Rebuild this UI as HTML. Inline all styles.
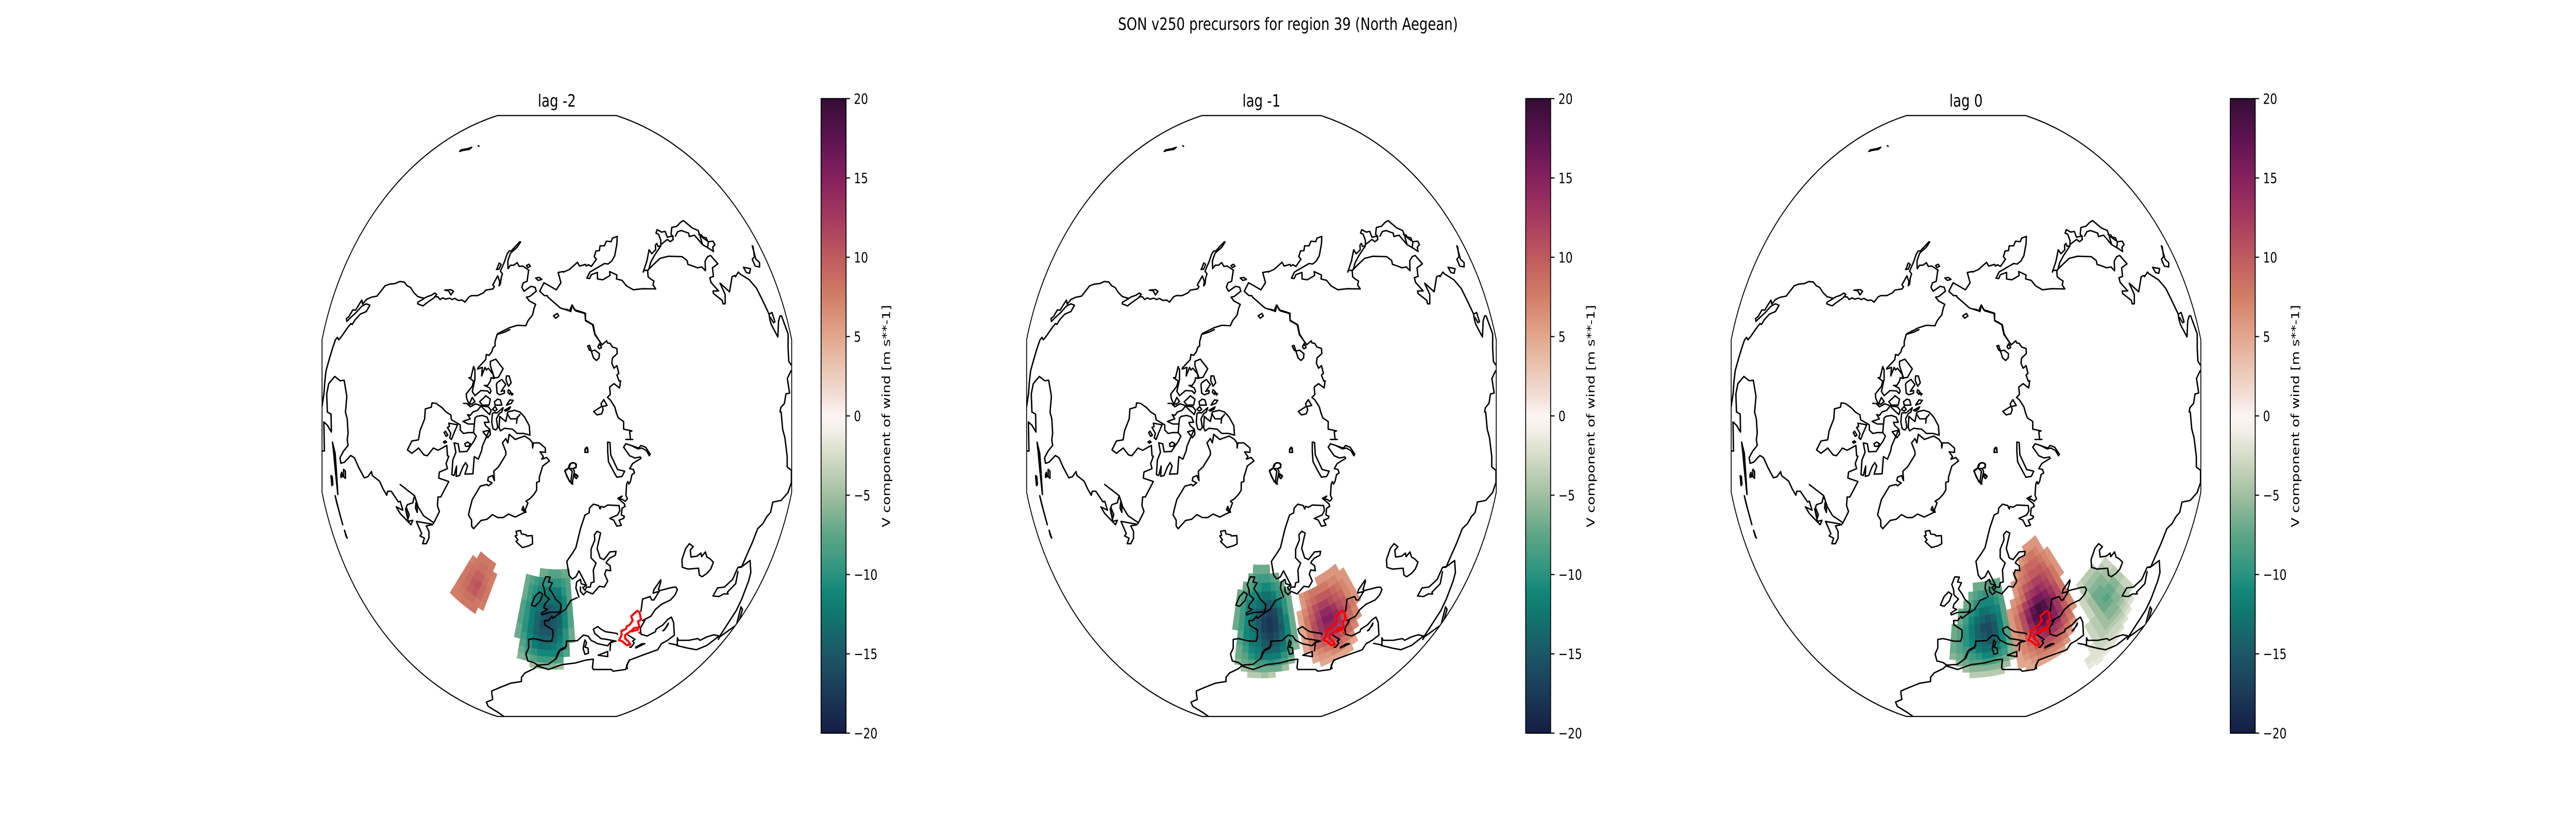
<!DOCTYPE html>
<html lang="en">
<head>
<meta charset="utf-8">
<title>SON v250 precursors for region 39 (North Aegean)</title>
<style>
html,body{margin:0;padding:0;background:#fff;width:100%;height:100%;overflow:hidden}
svg{display:block;width:100vw;height:100vh;font-family:"DejaVu Sans","Liberation Sans",sans-serif}
.c{fill:none;stroke:#000;stroke-width:2.7;stroke-linejoin:round;stroke-linecap:round;vector-effect:non-scaling-stroke}
.r{fill:none;stroke:#f00;stroke-width:4;stroke-linejoin:round;stroke-linecap:round;vector-effect:non-scaling-stroke}
.b{fill:none;stroke:#000;stroke-width:2.2}
</style>
</head>
<body>
<svg id="figure" xmlns="http://www.w3.org/2000/svg" viewBox="0 0 6400 1600" preserveAspectRatio="none">
<defs>
  <clipPath id="map-clip"><path d="M1235.5,224.4 L1531.5,224.4 A602,602 0 0 1 1966.9,659.8 L1966.9,955.8 A602,602 0 0 1 1531.5,1391.2 L1235.5,1391.2 A602,602 0 0 1 800.1,955.8 L800.1,659.8 A602,602 0 0 1 1235.5,224.4 Z"/></clipPath>
  <linearGradient id="cbar-gradient" x1="0" y1="1" x2="0" y2="0"></linearGradient>
  <g id="coast">
    <path class="c" transform="translate(795,400) scale(.3333,.3333)" d="M15,1170 30,1090 35,1030 45,960 70,890 95,825 115,780 130,765 140,780 165,755 200,715 230,685 240,690 265,660 300,630 345,615 372,578 345,570 310,585 270,620 235,645 200,672 197,655 215,645 245,605 265,607 290,575 312,548 318,572 345,545 380,532 425,525 445,505 485,465 520,455 560,452 595,440 628,443 650,465 675,475 700,505 730,528 775,538 800,528 830,520 855,507 870,515 850,535 795,565 768,582 728,570 730,560 775,540 M855,528 880,530 895,545 915,535 935,543 965,537 985,545 1005,538 1030,550 1060,548 1080,560 1110,530 1130,522 1175,522 1220,505 1235,490 1290,483 1300,470 1288,460 1325,407 1340,440 1335,465 1345,455 1350,420 1360,395 1345,380 1375,325 1395,280 1410,262 1425,262 1490,208 1495,210 1470,240 1420,275 1400,320 1402,365 1420,345 1445,345 1470,330 1485,352 1510,350 1535,362 1558,375 M1320,365 1335,332 1350,340 1335,368 1315,370 Z M930,490 975,487 995,497 975,518 960,495 Z M55,1200 50,1095 65,1035 110,993 150,1018 180,1015 195,1085 200,1110 190,1200"/>
    <path class="c" transform="translate(780,200) scale(.7651,.3827)" d="M697,851 692,905 680,912 675,935 682,955 705,930 718,935 722,955 700,982 690,985 700,1005 720,1022 715,1040 710,1075 695,1105 688,1130 660,1128 635,1140 597,1170 M810,855 793,860 802,912 787,948 765,928 747,912 733,955 748,977 758,978 760,985 800,1040 830,1055 838,1025 850,1055 880,1068 882,1105 905,1125 912,1175 935,1225 M690,825 698,818 703,828 695,835 Z M720,888 732,885 740,895 728,900 Z M778,1080 790,1068 795,1080 785,1092 Z"/>
    <path class="c" transform="translate(1400,400) scale(.3635,.3333)" d="M0,385 40,370 95,328 110,350 150,340 155,350 170,342 190,352 225,310 210,295 222,262 245,260 250,232 280,232 293,205 325,208 335,187 367,177 365,220 350,290 330,320 305,338 280,335 180,385 160,420 178,423 190,400 232,387 232,425 268,430 318,405 315,382 365,402 362,425 400,433 430,465 477,488 540,482 630,483 612,460 618,437 595,425 578,412 575,375 548,375 545,385 570,320 585,255 603,278 630,255 628,228 638,218 645,235 665,232 620,290 595,330 582,372 M575,375 610,345 660,305 715,293 810,295 845,318 850,340 885,350 915,360 945,355 970,377 968,320 985,295 1005,288 1055,337 1018,360 1025,410 1000,418 1008,445 1060,495 1022,495 1025,510 1085,550 1090,570 1105,570 1105,515 1070,450 1090,465 1135,500 1152,412 1170,405 1175,412 1195,385 1205,395 1270,430 1320,480 1355,540 1405,630 1410,660 1420,690 1465,763 1470,670 1480,640 1490,640 1535,745 1535,830 1540,905 1555,925 M1555,960 1530,1005 1545,1090 1520,1095 1510,1150 1485,1175 1480,1200 M665,225 665,200 650,165 632,158 640,138 670,152 695,148 710,182 745,175 750,195 730,208 710,195 665,225 M750,178 735,165 740,125 775,118 800,95 820,85 880,128 920,143 930,165 950,225 990,245 1025,265 1020,240 1035,225 1022,205 990,208 985,240 M765,175 780,150 805,143 855,158 860,178 895,170 950,225 M925,165 960,190 985,205 975,185 950,180 945,170 Z M1290,232 1315,310 1340,330 1340,355 1310,350 1290,310 1305,295 1295,235 Z M1230,357 1278,365 1272,392 1250,388 Z M1405,630 1425,620 1445,675 1435,680 1415,650 M165,815 178,812 190,845 178,840 Z M190,845 215,840 245,860 243,885 225,900 205,885 Z M235,820 245,803 260,825 245,832 Z M0,600 25,603 50,615 60,577 75,605 105,612 150,625 150,665 203,692 215,745 262,810 295,785 300,798 318,800 335,822 365,830 367,860 335,885 330,915 345,945 365,930 378,975 365,985 380,1020 390,1018 383,1060 345,1035 315,1055 320,1098 300,1115 320,1130 350,1170 360,1200"/>
    <path class="c" transform="translate(1040,640) scale(.3333,.3333)" d="M0,640 10,590 45,520 50,462 95,452 100,427 130,430 175,455 205,480 240,497 245,525 310,555 310,585 335,605 370,600 405,600 M0,690 40,730 65,735 110,690 145,703 210,675 215,735 225,738 205,780 215,810 155,830 150,865 225,885 165,975 145,975 140,1025 155,1060 130,1100 110,1130 M420,515 410,600 430,620 412,650 385,680 360,710 305,712 295,665 265,660 278,715 255,760 248,845 265,850 283,795 280,855 305,850 330,800 350,775 365,795 345,842 405,840 415,740 445,755 470,705 475,680 530,580 500,560 490,540 525,540 510,510 475,500 435,505 420,515 M410,1160 395,1145 395,1110 372,1080 380,1050 400,990 435,945 460,912 510,902 520,910 548,893 515,880 520,860 550,850 565,880 560,825 595,800 650,730 650,710 625,660 650,635 665,660 675,610 720,640 790,620 830,640 848,660 850,690 855,660 900,660 945,690 945,715 905,712 930,740 918,755 955,745 975,765 925,795 900,860 900,885 880,890 880,935 860,960 830,985 800,1000 815,1010 795,1050 800,1065 770,1050 780,1030 790,1065 720,1092 670,1075 630,1095 590,1095 550,1078 510,1105 465,1112 Z M605,505 625,520 650,535 665,480 715,470 755,480 790,510 825,560 830,615 785,605 735,605 700,580 640,575 610,590 600,570 Z M660,490 685,520 730,520 755,495 M730,545 735,510 M550,490 545,540 555,578 575,585 590,570 580,520 600,490 620,480 630,455 585,485 555,485 Z M335,430 360,430 385,450 425,432 470,445 520,450 540,470 530,495 495,470 465,445 440,470 405,480 385,500 365,495 385,520 330,535 370,550 410,550 M400,395 420,420 395,435 380,430 Z M455,420 490,395 500,385 535,405 525,440 475,440 Z M565,420 590,405 610,410 620,440 570,440 Z M550,465 570,448 585,465 570,475 Z M640,470 685,450 675,465 650,475 Z M655,440 680,410 705,412 690,430 Z M670,350 685,360 680,378 665,365 Z M690,368 703,375 695,382 Z M655,270 675,270 690,310 670,330 652,295 Z M585,310 620,290 650,320 615,360 640,355 640,370 605,380 585,370 580,320 Z M535,185 575,172 630,228 595,278 565,282 535,210 Z M420,235 410,215 390,280 375,280 410,300 400,330 355,375 358,400 385,450 M440,230 475,220 470,270 495,220 505,235 520,225 555,260 560,285 540,280 535,300 515,325 490,325 530,340 540,360 530,372 515,358 465,355 420,385 400,360 420,290 420,235 M440,225 500,175 505,145 525,150 545,130 555,105 570,95 570,70 585,28 640,15 680,0 M225,545 290,555 265,600 245,640 232,630 240,605 215,570 230,565 Z M190,600 200,592 218,615 205,622 Z M185,655 198,648 208,655 195,662 Z M345,665 365,655 385,665 375,680 350,680 Z M480,595 532,585 535,610 515,630 Z M1090,825 1115,810 1125,785 1145,775 1170,780 1175,800 1150,810 1125,810 1145,825 1135,885 1150,900 1125,885 1105,850 Z M1165,845 1188,855 1175,865 1165,860 Z M1245,690 1260,690 1262,715 1240,715 Z M1305,477 1365,447 1360,432 1380,408 1405,442 1370,448 1375,468 1365,490 1330,497 Z"/>
    <path class="c" transform="translate(780,750) scale(.4464,.4337)" d="M74,115 95,125 97,205 75,175 55,160 58,290 47,290 M175,115 185,145 190,210 185,240 190,265 165,290 145,320 150,345 170,340 205,310 225,320 250,365 280,410 300,405 320,382 325,400 365,425 385,460 405,488 410,470 430,470 470,518 480,515 495,555 458,540 480,570 540,620 550,600 525,605 510,550 520,530 550,522 560,490 M665,610 610,580 580,540 560,490 480,440 M660,618 570,605 600,660 590,670 615,680 605,705 625,705 640,680 640,650 625,625 660,620 M582,240 545,245 520,285 545,300 582,277 M510,550 525,590 530,575 515,545 Z M568,520 575,545 575,565 565,545 Z M103,250 118,300 125,380 133,485 118,370 110,300 Z M95,400 100,445 105,440 102,405 Z M118,490 135,545 160,620 150,590 128,525 Z M170,645 185,680 178,670 Z M150,395 155,385 158,405 150,408 Z M165,372 175,380 175,412 165,405 Z"/>
    <path class="c" transform="translate(1050,950) scale(.4464,.3333)" d="M520,245 545,240 550,260 575,265 580,272 610,270 612,318 590,330 555,340 520,305 530,295 515,272 525,268 Z M685,510 710,512 700,540 722,545 705,580 725,610 740,640 770,670 770,695 762,715 700,718 665,732 662,722 695,700 675,690 680,670 705,640 680,615 678,585 668,555 Z M605,675 625,625 650,598 668,612 655,650 625,682 Z M860,632 825,648 795,700 765,720 725,752 720,740 700,765 678,765 680,790 725,820 725,860 718,885 680,885 620,870 590,875 590,925 575,960 585,1000 620,1010 640,1025 700,1020 745,985 765,935 800,915 800,885 M450,1322 420,1300 365,1265 355,1240 390,1225 385,1190 385,1175 430,1155 490,1130 550,1120 550,1095 570,1070 620,1045 640,1025 M640,1030 700,1050 775,1022 850,1012 910,995 950,990 945,1040 950,1050 1050,1050 1060,1060 1130,1050 1140,1020 1150,995"/>
    <path class="c" transform="translate(1380,800) scale(.3763,.3333)" d="M400,0 415,35 450,55 450,100 505,110 490,115 495,155 M465,160 510,160 M450,205 465,185 500,195 550,210 565,195 595,205 625,245 620,255 600,225 570,210 545,215 500,195 M450,205 490,255 525,268 560,262 565,270 510,300 490,330 515,335 522,355 505,365 495,405 485,420 478,405 470,420 465,485 475,505 460,520 440,508 420,510 440,490 412,503 455,535 460,550 440,560 435,600 455,608 450,620 420,630 435,660 405,665 385,630 358,620 410,600 425,575 420,545 345,542 320,555 300,550 295,565 285,545 250,537 225,560 222,588 195,600 165,680 135,790 110,825 75,870 90,950 110,973 135,960 155,925 205,1010 180,1022 195,1040 205,1020 230,1020 235,995 255,990 250,920 268,880 235,850 235,800 260,745 257,715 275,695 298,705 275,795 295,850 320,860 360,815 400,812 395,835 360,850 340,870 335,880 360,895 365,925 335,920 325,945 345,985 322,1020 290,1015 245,1060 205,1045 185,1065 165,1045 165,1020 M155,1078 135,1025 140,990 165,975 170,1000 205,1010 M345,175 360,178 365,250 410,335 457,345 440,375 405,380 380,340 350,290 345,230 Z M195,218 208,205 215,235 195,235 Z M62,340 90,325 100,300 120,295 138,305 135,325 115,330 125,345 110,420 95,405 75,375 Z M130,360 148,372 138,388 128,380 Z M565,1160 575,1090 625,1075 635,1095 650,1095 685,1045 645,1055 650,1035 695,978 695,990 680,1035 690,1040 770,1022 795,1020 805,1035 790,1065 760,1095 700,1120 660,1150 630,1190 575,1215 590,1215 560,1260 565,1295 605,1305 660,1280 665,1265 710,1240 740,1210 765,1195 780,1225 785,1300 740,1330 700,1350 675,1385 580,1415 490,1445 470,1475 475,1495 M745,1230 720,1270 710,1275 740,1245 Z M530,1375 590,1350 570,1350 530,1370 Z M750,1348 805,1357 805,1315 812,1330 880,1330 940,1320 955,1330 1000,1310 1045,1298 1080,1305 1000,1360 930,1385 870,1375 800,1360 M885,767 910,785 890,805 895,845 935,840 960,822 965,843 990,815 1000,845 1020,855 1043,875 1025,915 1000,940 968,960 950,950 945,910 875,915 838,905 835,860 860,795 Z M1040,1072 1070,1025 1115,1020 1170,975 1195,925 1205,905 1225,905 1285,865 1290,935 1275,985 1230,1090 1195,1155 1085,1305 1075,1325 1085,1310 1195,1240 1225,1135 1235,1150 1205,1240 M1040,1072 1080,1075 1110,1060 1140,1060 1135,1050 1190,1000 1205,930 M1490,0 1500,100 1515,150 1530,260 1530,320 1558,340 1558,410 1535,470 1490,515 1435,525 1420,585 1395,610 1370,650 1335,680 1300,760 1230,900 1205,905 M0,1440 20,1395 65,1375 75,1335 145,1332 185,1300 215,1305 235,1330 280,1350 345,1362 360,1345 395,1335 M410,1295 405,1290 330,1280 300,1265 280,1250 250,1265 260,1290 300,1320 340,1325 400,1335 365,1340 360,1390 M282,1417 345,1395 345,1425 Z M195,1328 205,1345 195,1370 215,1375 218,1405 195,1412 183,1378 190,1345 Z M480,1300 525,1325 510,1335 520,1345 500,1370 490,1370"/>
    <path class="c" d="M1142,294 1146,291 1160,289 1172,286 1166,290 1150,292 Z M1188,283 1190,284"/>
  </g>
  <g id="region">
    <path class="r" transform="translate(1380,800) scale(.3763,.3333)" d="M540,1158 500,1190 510,1215 490,1240 470,1250 465,1265 435,1275 437,1300 420,1330 440,1335 470,1358 495,1355 480,1335 460,1320 460,1300 475,1290 500,1275 520,1258 555,1255 545,1220 565,1210 555,1165 Z M505,1278 545,1268 M553,1285 555,1286"/>
  </g>
</defs>

<rect x="0" y="0" width="6400" height="1600" fill="#fff"/>
<text x="3200" y="58" font-size="33.3" text-anchor="middle" fill="#000">SON v250 precursors for region 39 (North Aegean)</text>

<g id="panel-0">
  <text x="1383.5" y="207" font-size="33.3" text-anchor="middle">lag -2</text>
  <g class="field" clip-path="url(#map-clip)"></g>
  <use href="#coast" clip-path="url(#map-clip)"/>
  <use href="#region"/>
  <path class="b" d="M1235.5,224.4 L1531.5,224.4 A602,602 0 0 1 1966.9,659.8 L1966.9,955.8 A602,602 0 0 1 1531.5,1391.2 L1235.5,1391.2 A602,602 0 0 1 800.1,955.8 L800.1,659.8 A602,602 0 0 1 1235.5,224.4 Z"/>
  <g class="cbar"></g>
  <text transform="translate(2211,808) rotate(-90)" font-size="27.8" text-anchor="middle">V component of wind [m s**-1]</text>
</g>
<g id="panel-1" transform="translate(1750.5,0)">
  <text x="1383.5" y="207" font-size="33.3" text-anchor="middle">lag -1</text>
  <g class="field" clip-path="url(#map-clip)"></g>
  <use href="#coast" clip-path="url(#map-clip)"/>
  <use href="#region"/>
  <path class="b" d="M1235.5,224.4 L1531.5,224.4 A602,602 0 0 1 1966.9,659.8 L1966.9,955.8 A602,602 0 0 1 1531.5,1391.2 L1235.5,1391.2 A602,602 0 0 1 800.1,955.8 L800.1,659.8 A602,602 0 0 1 1235.5,224.4 Z"/>
  <g class="cbar"></g>
  <text transform="translate(2211,808) rotate(-90)" font-size="27.8" text-anchor="middle">V component of wind [m s**-1]</text>
</g>
<g id="panel-2" transform="translate(3501,0)">
  <text x="1383.5" y="207" font-size="33.3" text-anchor="middle">lag 0</text>
  <g class="field" clip-path="url(#map-clip)"></g>
  <use href="#coast" clip-path="url(#map-clip)"/>
  <use href="#region"/>
  <path class="b" d="M1235.5,224.4 L1531.5,224.4 A602,602 0 0 1 1966.9,659.8 L1966.9,955.8 A602,602 0 0 1 1531.5,1391.2 L1235.5,1391.2 A602,602 0 0 1 800.1,955.8 L800.1,659.8 A602,602 0 0 1 1235.5,224.4 Z"/>
  <g class="cbar"></g>
  <text transform="translate(2211,808) rotate(-90)" font-size="27.8" text-anchor="middle">V component of wind [m s**-1]</text>
</g>

<script>
// colour scale
const colorbarTicks = [20, 15, 10, 5, 0, -5, -10, -15, -20];
const colorbarTickLabels = ['20', '15', '10', '5', '0', '\u22125', '\u221210', '\u221215', '\u221220'];
const cmapValues = [-20, -17.5, -15, -12.5, -11, -10, -7.5, -5, -2.5, -1, 0, 1, 2.5, 5, 7.5, 10, 12.5, 15, 17.5, 20];
const cmapColors = ['#151d44', '#1b3a58', '#1c5766', '#10776f', '#12877a', '#2a9380', '#5da686', '#a1bfa0', '#d5dcc8', '#f1eee6', '#fdf5f4', '#f5e2dc', '#eccdbc', '#e2a68d', '#d27e67', '#bf5a5e', '#a4395f', '#85205e', '#5c1350', '#340d35'];

// lag -2: negative centre over Biscay, positive centre in mid-Atlantic
const lagM2TealLons = [-14, -12, -10, -8, -6, -4, -2, 0, 2, 4];
const lagM2TealLats = [58, 56, 54, 52, 50, 48, 46, 44, 42, 40, 38, 36, 34];
const lagM2TealValues = [
  [0, 0, 0, -7, -7, -8, -8, -8, -7, -7],
  [-7, -8, -9, -10, -10, -10, -10, -10, -9, -8],
  [-7, -9, -10, -11, -12, -12, -12, -12, -10, -8],
  [-7, -9, -11, -12, -13, -13, -13, -13, -11, -8],
  [-8, -10, -12, -13, -14, -15, -14, -14, -11, -8],
  [-8, -10, -12, -14, -15, -16, -15, -14, -11, -8],
  [-8, -10, -12, -14, -16, -16, -15, -14, -11, -8],
  [-7, -10, -12, -14, -15, -15, -15, -13, -10, -7],
  [-7, -9, -11, -13, -14, -14, -14, -12, -10, -7],
  [0, -8, -10, -12, -13, -13, -12, -11, -9, 0],
  [0, -7, -9, -10, -11, -11, -11, -10, -8, 0],
  [0, -6, -7, -8, -9, -9, -9, -8, 0, 0],
  [0, 0, 0, -5, -6, -6, -6, -5, 0, 0]
];
const lagM2PinkLons = [-38, -36, -34, -32, -30, -28];
const lagM2PinkLats = [55, 53, 51, 49, 47, 45, 43];
const lagM2PinkValues = [
  [0, 8, 8, 8, 7.5, 0],
  [7.5, 8, 8.5, 8.5, 8, 7.5],
  [8, 8.5, 9.5, 9.5, 8.5, 7.5],
  [8, 9, 10, 10.5, 9, 8],
  [8, 8.5, 9.5, 10, 9, 8],
  [7.5, 8, 8.5, 8.5, 8, 7.5],
  [7.5, 7.5, 8, 8, 8, 0]
];

// lag -1
const lagM1TealLons = [-10, -8, -6, -4, -2, 0, 2, 4, 6, 8, 10];
const lagM1TealLats = [59, 57, 55, 53, 51, 49, 47, 45, 43, 41, 39, 37, 35, 33, 31];
const lagM1TealValues = [
  [0, 0, 0, -7, -7, -7, -7, 0, 0, 0, 0],
  [0, 0, -7, -8, -9, -9, -9, -8, -7, 0, 0],
  [0, -7, -8, -9, -10, -11, -11, -10, -9, -7, 0],
  [-7, -8, -10, -11, -12, -13, -13, -12, -10, -8, -7],
  [-7, -9, -11, -12, -13, -14, -15, -14, -12, -10, -7],
  [-7, -9, -11, -13, -15, -16, -17, -16, -14, -10, -7],
  [-7, -9, -11, -13, -15, -17, -18, -17, -14, -11, -7],
  [-7, -9, -11, -13, -15, -17, -18, -17, -15, -11, -7],
  [0, -8, -11, -12, -14, -16, -17, -16, -14, -11, -7],
  [0, -8, -10, -12, -13, -15, -16, -15, -13, -10, -7],
  [0, -7, -9, -11, -12, -14, -14, -14, -12, -9, -6],
  [0, -7, -8, -10, -11, -12, -12, -12, -10, -8, 0],
  [0, -6, -7, -8, -9, -9, -10, -9, -8, -6, 0],
  [0, 0, -5, -6, -7, -7, -7, -7, -5, 0, 0],
  [0, 0, 0, -4, -4, -5, -4, 0, 0, 0, 0]
];
const lagM1RedLons = [13, 15, 17, 19, 21, 23, 25, 27, 29, 31, 33];
const lagM1RedLats = [53, 51, 49, 47, 45, 43, 41, 39, 37, 35, 33, 31];
const lagM1RedValues = [
  [0, 0, 0, 0, 0, 6, 6, 6, 6, 6, 0],
  [0, 6, 7, 8, 8, 8, 8, 7, 7, 6, 6],
  [0, 6, 8, 9, 10, 10, 10, 9, 8, 7, 6],
  [5, 7, 9, 11, 12, 12, 11, 10, 9, 7, 6],
  [5, 8, 10, 12, 14, 14, 13, 11, 10, 7, 6],
  [5, 8, 11, 13, 15, 15, 14, 12, 10, 8, 6],
  [5, 8, 11, 13, 14, 14, 13, 11, 9, 7, 0],
  [5, 8, 10, 12, 13, 13, 12, 10, 8, 6, 0],
  [5, 7, 9, 10, 11, 11, 10, 9, 7, 0, 0],
  [0, 6, 7, 8, 9, 9, 8, 7, 0, 0, 0],
  [0, 5, 6, 6, 7, 7, 6, 5, 0, 0, 0],
  [0, 0, 5, 5, 5, 5, 5, 0, 0, 0, 0]
];

// lag 0
const lag0TealLons = [-5, -3, -1, 1, 3, 5, 7, 9, 11, 13];
const lag0TealLats = [55, 53, 51, 49, 47, 45, 43, 41, 39, 37, 35, 33, 31];
const lag0TealValues = [
  [0, 0, 0, 0, -7, -7, -7, -8, -8, -7],
  [0, 0, 0, -7, -8, -9, -10, -10, -9, -8],
  [0, 0, -7, -8, -10, -11, -11, -11, -10, -8],
  [0, -7, -8, -10, -11, -13, -13, -12, -11, -8],
  [0, -7, -9, -11, -13, -14, -15, -14, -12, -8],
  [-7, -8, -10, -12, -14, -16, -16, -15, -12, -8],
  [-7, -8, -10, -12, -14, -15, -16, -15, -12, -8],
  [-7, -8, -10, -11, -13, -14, -15, -14, -11, -8],
  [-7, -8, -9, -10, -12, -13, -13, -12, -10, -7],
  [-6, -7, -8, -9, -10, -11, -11, -10, -9, -6],
  [0, -6, -7, -8, -8, -9, -9, -8, -7, -5],
  [0, 0, -5, -6, -6, -6, -6, -6, -5, 0],
  [0, 0, 0, -4, -4, -4, -4, -4, 0, 0]
];
const lag0RedLons = [15, 17, 19, 21, 23, 25, 27, 29, 31, 33, 35, 37];
const lag0RedLats = [59, 57, 55, 53, 51, 49, 47, 45, 43, 41, 39, 37, 35, 33, 31, 29];
const lag0RedValues = [
  [0, 0, 0, 0, 0, 0, 0, 6, 6, 6, 6, 0],
  [0, 0, 0, 0, 0, 6, 7, 8, 8, 7, 6, 0],
  [0, 0, 0, 6, 7, 8, 9, 9, 9, 8, 7, 6],
  [0, 0, 6, 7, 8, 9, 10, 10, 10, 9, 7, 6],
  [0, 0, 6, 8, 10, 11, 12, 12, 11, 10, 8, 6],
  [0, 6, 7, 9, 12, 13, 14, 13, 12, 10, 8, 6],
  [6, 7, 9, 12, 14, 16, 16, 15, 13, 11, 8, 0],
  [6, 8, 11, 14, 17, 19, 18, 16, 14, 11, 8, 0],
  [6, 8, 11, 15, 18, 19, 18, 16, 13, 11, 8, 0],
  [6, 8, 11, 14, 17, 18, 17, 15, 13, 10, 7, 0],
  [6, 7, 10, 13, 15, 16, 15, 14, 11, 9, 6, 0],
  [6, 7, 9, 11, 13, 14, 13, 12, 10, 8, 0, 0],
  [5, 7, 8, 10, 11, 11, 11, 10, 8, 6, 0, 0],
  [5, 6, 7, 8, 9, 9, 9, 8, 6, 0, 0, 0],
  [5, 5, 6, 7, 7, 7, 7, 6, 0, 0, 0, 0],
  [0, 5, 5, 5, 5, 5, 5, 0, 0, 0, 0, 0]
];
const lag0GreenLons = [32, 34, 36, 38, 40, 42, 44, 46, 48, 50];
const lag0GreenLats = [42, 40, 38, 36, 34, 32, 30, 28, 26, 24, 22, 20, 18, 16, 14, 12, 10];
const lag0GreenValues = [
  [0, 0, 0, 0, -3, -4, -4, -4, 0, 0],
  [0, 0, 0, 0, -4, -5, -5, -5, -4, -3],
  [0, 0, 0, -3, -4, -6, -6, -6, -5, -3],
  [0, 0, 0, -3, -5, -7, -7, -6, -5, -4],
  [0, 0, 0, -3, -5, -7, -7, -7, -6, -4],
  [0, 0, 0, -3, -5, -7, -8, -7, -6, -4],
  [0, 0, -3, -4, -5, -7, -7, -6, -5, -3],
  [0, 0, -3, -4, -5, -6, -6, -6, -5, -3],
  [0, 0, -3, -4, -5, -6, -6, -5, -4, -3],
  [0, 0, -3, -4, -5, -5, -5, -4, -3, 0],
  [0, -2, -3, -4, -4, -4, -4, -3, -2, 0],
  [0, -2, -3, -3, -3, -3, -3, -2, 0, 0],
  [-2, -2, -3, -3, -3, -3, -2, 0, 0, 0],
  [-2, -2, -2, -2, -2, -2, 0, 0, 0, 0],
  [-1.5, -2, -2, -2, -2, 0, 0, 0, 0, 0],
  [-1.5, -1.5, -1.5, -1.5, 0, 0, 0, 0, 0, 0],
  [0, -1.5, 0, 0, 0, 0, 0, 0, 0, 0]
];

const SVGNS = 'http://www.w3.org/2000/svg';
const gridStep = 2;
const mapCx = 1383.5, mapCy = 811, mapR = 590;
const cbarLeft = 2040, cbarRight = 2102, cbarTop = 191.5, cbarBottom = 1423.6;

function projectX(lon, lat) {
  return mapCx + mapR * Math.cos(lat * Math.PI / 180) * Math.sin(lon * Math.PI / 180);
}
function projectY(lon, lat) {
  return mapCy + mapR * Math.cos(lat * Math.PI / 180) * Math.cos(lon * Math.PI / 180);
}
function cbarY(v) {
  return cbarBottom - (v + 20) / 40 * (cbarBottom - cbarTop);
}
function hexToRgb(h) {
  return [parseInt(h.slice(1, 3), 16), parseInt(h.slice(3, 5), 16), parseInt(h.slice(5, 7), 16)];
}
function colorFor(v) {
  const c = Math.max(-20, Math.min(20, v));
  for (let i = 0; i < cmapValues.length - 1; i++) {
    if (c <= cmapValues[i + 1]) {
      const t = (c - cmapValues[i]) / (cmapValues[i + 1] - cmapValues[i]);
      const a = hexToRgb(cmapColors[i]), b = hexToRgb(cmapColors[i + 1]);
      return 'rgb(' + Math.round(a[0] + (b[0] - a[0]) * t) + ',' + Math.round(a[1] + (b[1] - a[1]) * t) + ',' + Math.round(a[2] + (b[2] - a[2]) * t) + ')';
    }
  }
  return cmapColors[cmapColors.length - 1];
}
function drawField(panelIndex, lons, lats, values) {
  const host = document.querySelector('#panel-' + panelIndex + ' .field');
  lats.forEach(function (lat, r) {
    lons.forEach(function (lon, k) {
      const v = values[r][k];
      if (!v) return;
      const corners = [[lon, lat], [lon + gridStep, lat], [lon + gridStep, lat + gridStep], [lon, lat + gridStep]];
      const cell = document.createElementNS(SVGNS, 'polygon');
      cell.setAttribute('points', corners.map(function (p) {
        return projectX(p[0], p[1]).toFixed(1) + ',' + projectY(p[0], p[1]).toFixed(1);
      }).join(' '));
      cell.setAttribute('fill', colorFor(v));
      cell.setAttribute('stroke', colorFor(v));
      cell.setAttribute('stroke-width', '0.7');
      
      
      host.appendChild(cell);
    });
  });
}
function drawColorbar(panelIndex) {
  const host = document.querySelector('#panel-' + panelIndex + ' .cbar');
  const bar = document.createElementNS(SVGNS, 'rect');
  bar.setAttribute('x', cbarLeft);
  bar.setAttribute('y', cbarTop);
  bar.setAttribute('width', cbarRight - cbarLeft);
  bar.setAttribute('height', cbarBottom - cbarTop);
  bar.setAttribute('fill', 'url(#cbar-gradient)');
  bar.setAttribute('stroke', '#000');
  bar.setAttribute('stroke-width', '2.2');
  
  
  host.appendChild(bar);
  colorbarTicks.forEach(function (t, i) {
    const tick = document.createElementNS(SVGNS, 'line');
    tick.setAttribute('x1', cbarRight);
    tick.setAttribute('x2', cbarRight + 9.7);
    tick.setAttribute('y1', cbarY(t));
    tick.setAttribute('y2', cbarY(t));
    tick.setAttribute('stroke', '#000');
    tick.setAttribute('stroke-width', '2.2');
    
    
    host.appendChild(tick);
    const label = document.createElementNS(SVGNS, 'text');
    label.setAttribute('x', cbarRight + 19.4);
    label.setAttribute('y', cbarY(t) + 10);
    label.setAttribute('font-size', '27.8');
    
    
    label.textContent = colorbarTickLabels[i];
    host.appendChild(label);
  });
}

const gradient = document.getElementById('cbar-gradient');
cmapValues.forEach(function (v, i) {
  const stop = document.createElementNS(SVGNS, 'stop');
  stop.setAttribute('offset', (v + 20) / 40);
  stop.setAttribute('stop-color', cmapColors[i]);
  gradient.appendChild(stop);
});

drawField(0, lagM2TealLons, lagM2TealLats, lagM2TealValues);
drawField(0, lagM2PinkLons, lagM2PinkLats, lagM2PinkValues);
drawField(1, lagM1TealLons, lagM1TealLats, lagM1TealValues);
drawField(1, lagM1RedLons, lagM1RedLats, lagM1RedValues);
drawField(2, lag0TealLons, lag0TealLats, lag0TealValues);
drawField(2, lag0RedLons, lag0RedLats, lag0RedValues);
drawField(2, lag0GreenLons, lag0GreenLats, lag0GreenValues);
drawColorbar(0);
drawColorbar(1);
drawColorbar(2);
</script>
</svg>
</body>
</html>
